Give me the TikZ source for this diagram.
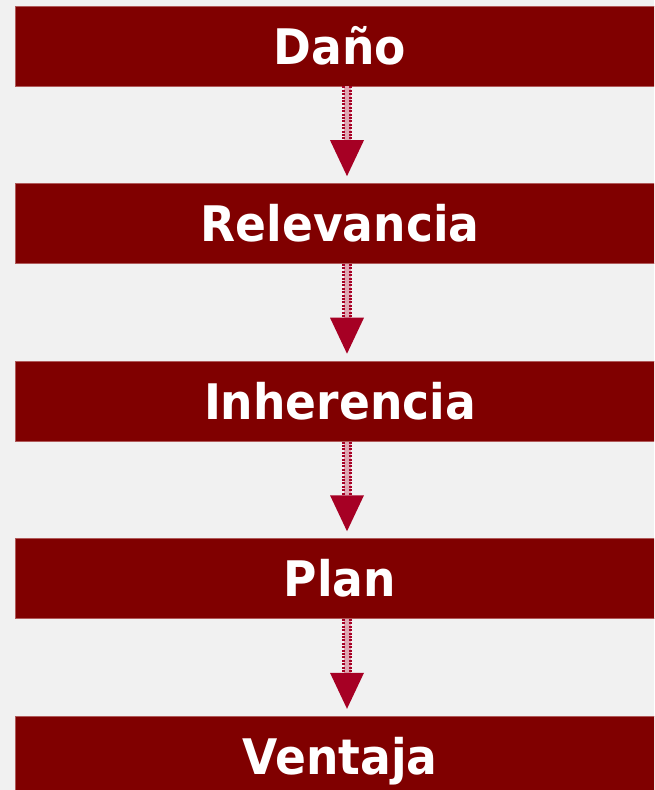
\documentclass[tikz,border=0pt]{standalone}
\usepackage{fontspec}
\setsansfont{DejaVu Sans}[FakeStretch=0.93]
\usetikzlibrary{positioning}
\definecolor{granate}{RGB}{128,0,0}
\definecolor{borde}{RGB}{176,90,90}
\definecolor{rojo}{RGB}{166,0,36}
\definecolor{fondo}{RGB}{241,241,241}
\tikzset{
    %Define style for boxes
    caja/.style={
           rectangle,
           fill=granate,
           draw=borde, line width=0.8pt,
           minimum width=650pt,
           minimum height=80pt,
           inner sep=0pt,
           text=white,
           text height=36pt,
           text depth=0pt,
           font=\sffamily\bfseries\fontsize{49}{49}\selectfont},
    % Define arrow style
    tallo/.style={
           draw=rojo,
           line width=3pt,
           dash pattern=on 2pt off 1.4pt},
    relleno/.style={fill=rojo!35},
    punta/.style={fill=rojo}
}
\begin{document}
\begin{tikzpicture}[x=1pt,y=-1pt,node distance=96.75pt]
\fill[fondo] (0,0) rectangle (654,790);
\clip (0,0) rectangle (654,790);
 %nodes
\node[caja] (dano) at (340,46) {Daño};
\node[caja, below=of dano] (rel) {Relevancia};
\node[caja, below=of rel] (inh) {Inherencia};
\node[caja, below=of inh] (plan) {Plan};
\node[caja, below=of plan] (vent) {Ventaja};
\coordinate (ax) at (347,0);
 %arrows
\foreach \a/\b in {dano/rel,rel/inh,inh/plan,plan/vent}{
  \path (\a.south -| ax) coordinate (s)
        ([yshift=7pt]\b.north -| ax) coordinate (t);
  \fill[relleno] ([xshift=-3.5pt]s) rectangle ([xshift=3.5pt,yshift=36pt]t);
  \draw[tallo] ([xshift=-3.5pt]s) -- ([xshift=-3.5pt,yshift=36pt]t);
  \draw[tallo] ([xshift=3.5pt]s) -- ([xshift=3.5pt,yshift=36pt]t);
  \fill[punta] ([xshift=-17pt,yshift=36pt]t) -- ([xshift=17pt,yshift=36pt]t) -- (t) -- cycle;
}
\end{tikzpicture}
\end{document}
